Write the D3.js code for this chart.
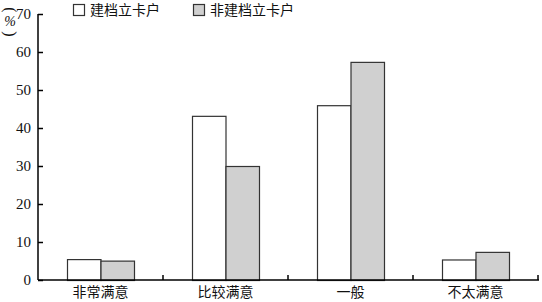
<!DOCTYPE html>
<html>
<head>
<meta charset="utf-8">
<script src="https://cdn.jsdelivr.net/npm/d3@7"></script>
<style>
  body { margin: 0; background: #fff; }
  svg { display: block; }
</style>
</head>
<body>
<script>
// Data
var categories = ["非常满意", "比较满意", "一般", "不太满意"];
var seriesNames = ["建档立卡户", "非建档立卡户"];
var filed = [5.5, 43.2, 46.0, 5.4];       // 建档立卡户
var nonFiled = [5.1, 30.0, 57.4, 7.4];    // 非建档立卡户
var yTicks = [0, 10, 20, 30, 40, 50, 60, 70];

const width = 542, height = 302;
const plotLeft = 38, plotRight = 538, plotTop = 14, plotBottom = 280;
const fills = ["#ffffff", "#d0d0d0"];
const cjk = "'Noto Sans CJK SC', sans-serif";
const num = "'Liberation Serif', 'Times New Roman', serif";

let svg = d3.select("body").append("svg")
    .attr("width", width)
    .attr("height", height);

// Scales
let x = d3.scaleBand()
    .domain(categories)
    .range([plotLeft, plotRight])
    .paddingInner(0)
    .paddingOuter(0);

let xInner = d3.scaleBand()
    .domain(seriesNames)
    .range([29, x.bandwidth() - 29]);

let y = d3.scaleLinear()
    .domain([0, 70])
    .range([plotBottom, plotTop]);

// Bars
let rows = categories.map((c, i) => ({ cat: c, values: [filed[i], nonFiled[i]] }));

svg.append("g")
    .selectAll("g")
    .data(rows)
    .enter()
    .append("g")
    .attr("transform", d => `translate(${x(d.cat)},0)`)
    .selectAll("rect")
    .data(d => d.values.map((v, j) => ({ name: seriesNames[j], v: v, j: j })))
    .enter()
    .append("rect")
    .attr("x", d => xInner(d.name) + 0.5)
    .attr("y", d => y(d.v) + 0.5)
    .attr("width", xInner.bandwidth())
    .attr("height", d => plotBottom - y(d.v))
    .attr("fill", d => fills[d.j])
    .attr("stroke", "#333")
    .attr("stroke-width", 1.2);

// Y axis
let yAxis = svg.append("g")
    .attr("transform", `translate(${plotLeft},0)`)
    .call(d3.axisRight(y).tickValues(yTicks).tickSize(5).tickFormat(""));
yAxis.select(".domain").attr("d", `M0,${plotTop}V${plotBottom}`).attr("stroke", "#000").attr("stroke-width", 1.5);
yAxis.selectAll(".tick line").attr("stroke", "#000").attr("stroke-width", 1.5);

svg.append("g")
    .selectAll("text")
    .data(yTicks)
    .enter()
    .append("text")
    .attr("x", plotLeft - 7)
    .attr("y", d => y(d) + 5)
    .attr("text-anchor", "end")
    .attr("font-family", num)
    .attr("font-size", 15)
    .attr("fill", "#111")
    .text(d => d);

// X axis
svg.append("line")
    .attr("x1", plotLeft)
    .attr("x2", plotRight + 1)
    .attr("y1", plotBottom)
    .attr("y2", plotBottom)
    .attr("stroke", "#000")
    .attr("stroke-width", 1.5);

let boundaries = categories.slice(1).map(c => x(c)).concat([x.range()[1]]);
svg.append("g")
    .selectAll("line")
    .data(boundaries)
    .enter()
    .append("line")
    .attr("x1", d => d)
    .attr("x2", d => d)
    .attr("y1", plotBottom)
    .attr("y2", plotBottom - 5)
    .attr("stroke", "#000")
    .attr("stroke-width", 1.5);

svg.append("g")
    .selectAll("text")
    .data(categories)
    .enter()
    .append("text")
    .attr("x", d => x(d) + x.bandwidth() / 2)
    .attr("y", 297)
    .attr("text-anchor", "middle")
    .attr("font-family", cjk)
    .attr("font-size", 14)
    .attr("fill", "#111")
    .text(d => d);

// Y label, vertical （%）: parentheses turned sideways, % upright
let yLabel = svg.append("g").attr("fill", "#111");
yLabel.append("text")
    .attr("transform", "translate(10,10) rotate(90)")
    .attr("text-anchor", "middle")
    .attr("dominant-baseline", "central")
    .attr("font-family", num)
    .attr("font-weight", 300)
    .attr("font-size", 16)
    .text("(");
yLabel.append("text")
    .attr("x", 10)
    .attr("y", 26)
    .attr("text-anchor", "middle")
    .attr("font-family", num)
    .attr("font-style", "italic")
    .attr("font-size", 14)
    .text("%");
yLabel.append("text")
    .attr("transform", "translate(10,34) rotate(90)")
    .attr("text-anchor", "middle")
    .attr("dominant-baseline", "central")
    .attr("font-family", num)
    .attr("font-size", 16)
    .text(")");

// Legend
let legend = svg.append("g")
    .selectAll("g")
    .data(seriesNames)
    .enter()
    .append("g")
    .attr("transform", (d, i) => `translate(${73 + i * 120},4)`);

legend.append("rect")
    .attr("x", 0.5)
    .attr("y", 0.5)
    .attr("width", 11)
    .attr("height", 11)
    .attr("fill", (d, i) => fills[i])
    .attr("stroke", "#333")
    .attr("stroke-width", 1.2);

legend.append("text")
    .attr("x", 17)
    .attr("y", 11)
    .attr("font-family", cjk)
    .attr("font-size", 14)
    .attr("fill", "#111")
    .text(d => d);
</script>
</body>
</html>
